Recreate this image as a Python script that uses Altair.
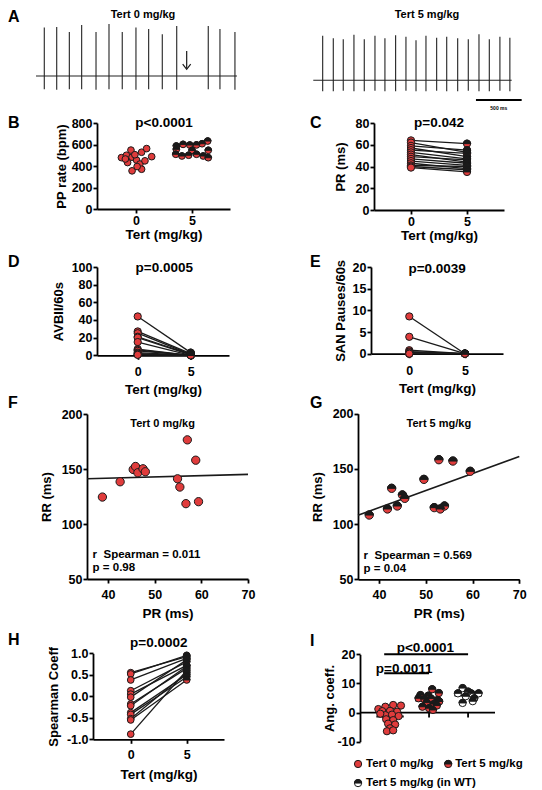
import altair as alt
import pandas as pd

FONT = "Liberation Sans"
RED = "#e03c3c"
DARK = "#1a1a1a"
TOP_HALF = "M -1 0 A 1 1 0 0 1 1 0 Z"
MINUS_FIX = "replace(datum.label, '\u2212', '-')"
W, HH = 526, 782  # whole drawing area (page 8..534 x 8..790)

# ---------------- data ----------------
# A: ECG beats (time in ms, R peak and S trough in mV)
ecg0_t = [397, 533, 671, 806, 963, 1105, 1250, 1400, 1539, 1688, 1846, 2191, 2319, 2483]
ecg0_top = [0.99, 1.00, 0.90, 1.04, 0.90, 1.06, 0.90, 0.99, 0.96, 0.85, 1.02, 1.02, 0.96, 0.90]
ecg0_bot = [-0.27, -0.28, -0.27, -0.27, -0.28, -0.27, -0.27, -0.28, -0.27, -0.27, -0.28, -0.27, -0.27, -0.28]
ecg5_t = [3443, 3559, 3668, 3785, 3898, 4015, 4124, 4241, 4354, 4464, 4573, 4690, 4800, 4920, 5036, 5153, 5266, 5382, 5491]
ecg5_top = [0.82, 0.77, 0.75, 0.84, 0.75, 0.82, 0.77, 0.83, 0.80, 0.73, 0.82, 0.78, 0.80, 0.77, 0.75, 0.85, 0.75, 0.80, 0.78]
ecg5_bot = [-0.31, -0.31, -0.30, -0.31, -0.31, -0.30, -0.31, -0.31, -0.30, -0.31, -0.31, -0.30, -0.31, -0.31, -0.30, -0.31, -0.31, -0.30, -0.31]
ecg_base_start = [306, 3340]
ecg_base_end = [2505, 5511]
ecg_base_level = [0.0, -0.088]

# B: PP rate (bpm), dot-plot spread offsets
pp0_dx = [-1.3, -0.85, -0.45, -0.35, 0.05, 0.5, 0.95, 1.4, -0.75, 0.35, 0.8, -0.1, -0.35, 0.5, 0.1, -0.95]
pp0 = [478, 500, 548, 482, 455, 528, 562, 487, 432, 418, 448, 505, 355, 370, 395, 465]
pp5_dx = [-1.4, -0.8, -0.2, 0.4, 0.9, 1.4, -1.4, 1.45, -1.45, -0.9, -0.3, 0.4, 1.0, 1.45, 0.0]
pp5 = [586, 601, 595, 596, 607, 632, 555, 546, 509, 493, 500, 509, 493, 477, 545]

# C: PR (ms) paired
pr0 = [64, 62, 59, 57, 55, 53, 51, 49, 47, 45, 43, 41, 40, 39]
pr5 = [61, 53, 55, 49, 52, 47, 44, 46, 43, 41, 38, 40, 37, 35]

# D: AVBII / 60 s paired
avb0 = [44, 27, 25, 21, 20, 15, 7, 6, 5, 3, 2, 1, 1, 0.5]
avb5 = [3, 2, 1, 1, 0.5, 0, 0, 0, 0, 0, 0, 0, 0, 0]

# E: SAN pauses / 60 s paired
san0 = [8.6, 3.9, 0.8, 0.5, 0.3, 0, 0, 0]
san5 = [0, 0, 0, 0, 0, 0, 0, 0]

# F, G: PR vs RR
f_pr = [38.8, 42.6, 45.4, 45.9, 46.4, 47.5, 48.0, 54.9, 55.4, 57.0, 58.8, 56.7, 59.4]
f_rr = [124.5, 138.4, 149.6, 152.3, 146.6, 150.2, 147.5, 141.1, 133.6, 176.5, 158.0, 118.5, 120.3]
g_pr = [37.9, 41.8, 42.7, 43.9, 45.0, 45.5, 49.6, 52.8, 51.8, 53.1, 54.0, 55.8, 59.5]
g_rr = [108.2, 113.7, 132.4, 116.4, 126.4, 123.3, 140.5, 158.3, 114.9, 113.7, 116.4, 157.1, 147.8]

# H: Spearman coefficient paired
sp0 = [0.55, 0.52, 0.38, 0.13, 0.05, -0.02, -0.18, -0.22, -0.38, -0.42, -0.52, -0.55, -0.88]
sp5 = [0.92, 0.95, 0.88, 0.80, 0.72, 0.85, 0.65, 0.70, 0.50, 0.45, 0.55, 0.38, 0.60]

# I: angular coefficient, three groups, spread offsets
ang0_dx = [-0.30, -0.12, 0.08, 0.28, -0.20, 0.0, 0.18, -0.12, 0.05, 0.22, -0.10, 0.08, -0.05, 0.13, 0.0, -0.08, 0.08, -0.25]
ang0 = [1.2, 2.0, 2.6, 2.4, 0.5, 0.6, 0.3, -0.9, -0.7, -1.2, -2.3, -2.6, -3.8, -4.1, -5.4, -6.4, -6.1, -0.4]
ang5_dx = [0.08, 0.25, -0.22, -0.02, -0.27, -0.12, 0.05, 0.22, -0.06, 0.12, 0.26, -0.17, 0.0, 0.1, 0.2]
ang5 = [8.0, 6.7, 6.0, 5.8, 4.9, 4.6, 4.8, 4.3, 3.4, 2.9, 3.8, 2.0, 1.5, 0.9, 2.4]
angwt_dx = [-0.14, 0.08, 0.27, -0.26, -0.06, 0.16, -0.14, 0.12, 0.0]
angwt = [8.4, 6.6, 6.6, 6.6, 5.6, 4.9, 3.3, 3.9, 7.2]


# ---------------- helpers ----------------
def letter(text, cx, cy):
    return alt.Chart(pd.DataFrame({"t": [text]})).mark_text(
        font=FONT, fontSize=16, fontWeight="bold", color="black", align="left", baseline="top"
    ).encode(x=alt.value(cx), y=alt.value(cy), text="t:N")


def xax(t, vals, lp, tp, ybottom):
    return alt.Axis(title=t, values=vals, labelPadding=lp, titlePadding=tp,
                    orient="bottom", offset=ybottom - HH)


def yax(t, vals, tp, xleft, lp=1, fmt=None, expr=None):
    kw = dict(title=t, values=vals, titlePadding=tp, labelPadding=lp, orient="left", offset=-xleft)
    if fmt:
        kw["format"] = fmt
    if expr:
        kw["labelExpr"] = expr
    return alt.Axis(**kw)


def sc(dom, rng):
    return alt.Scale(domain=dom, range=rng, nice=False, zero=False)


def pts_full(df, X, Y, size, fill):
    return alt.Chart(df).mark_point(shape="circle", filled=True, fill=fill, stroke=DARK,
                                    strokeWidth=1, size=size, opacity=1).encode(x=X, y=Y)


def pts_top(df, X, Y, size):
    return alt.Chart(df).mark_point(shape=TOP_HALF, filled=True, fill=DARK, stroke=DARK,
                                    strokeWidth=1, size=size, opacity=1).encode(x=X, y=Y)


def note(text, x, y, xs, ys, size=13.5, align="center", baseline="middle", noaxis=False):
    if noaxis:
        ex = alt.X(datum=x, scale=xs, axis=None)
        ey = alt.Y(datum=y, scale=ys, axis=None)
    else:
        ex = alt.X(datum=x, scale=xs)
        ey = alt.Y(datum=y, scale=ys)
    return alt.Chart(pd.DataFrame({"t": [text]})).mark_text(
        font=FONT, fontSize=size, fontWeight="bold", color="black",
        align=align, baseline=baseline).encode(x=ex, y=ey, text="t:N")


def paired(let, lpos, v0, v5, dx0, dx5, xdom, xr, ydom, yr, yvals, ytitle, ptxt, py,
           ytp, xlp, xtp, size, lines=True, fmt=None, expr=None):
    d0 = pd.DataFrame({"id": list(range(len(v0))), "x": [0 + o for o in dx0], "v": v0})
    d5 = pd.DataFrame({"id": list(range(len(v5))), "x": [5 + o for o in dx5], "v": v5})
    xs, ys = sc(xdom, xr), sc(ydom, yr)
    X = alt.X("x:Q", scale=xs, axis=xax("Tert (mg/kg)", [0, 5], xlp, xtp, yr[0]))
    Y = alt.Y("v:Q", scale=ys, axis=yax(ytitle, yvals, ytp, xr[0], fmt=fmt, expr=expr))
    layers = []
    if lines:
        layers.append(alt.Chart(pd.concat([d0, d5])).mark_line(color=DARK, strokeWidth=1.3)
                      .encode(x=X, y=Y, detail="id:N"))
    layers += [pts_full(d0, X, Y, size, RED), pts_full(d5, X, Y, size, RED),
               pts_top(d5, X, Y, size), note(ptxt, 2.5, py, xs, ys), letter(let, *lpos)]
    return alt.layer(*layers)


def scatter(let, lpos, prs, rrs, half, label, lx, rtxt, ptxt, xr, yr):
    d = pd.DataFrame({"pr": prs, "rr": rrs})
    xs, ys = sc([35.5, 70], xr), sc([50, 200], yr)
    X = alt.X("pr:Q", scale=xs, axis=xax("PR (ms)", [40, 50, 60, 70], 5.1, 5.4, yr[0]))
    Y = alt.Y("rr:Q", scale=ys, axis=yax("RR (ms)", [50, 100, 150, 200], 7.15, xr[0]))
    reg = (alt.Chart(d).transform_regression("pr", "rr", extent=[35.5, 70])
           .mark_line(color=DARK, strokeWidth=1.6).encode(x=X, y=Y))
    layers = [reg, pts_full(d, X, Y, 69, RED)]
    if half:
        layers.append(pts_top(d, X, Y, 69))
    layers += [note(label, lx, 190.9, xs, ys, size=11),
               note(rtxt, 36.7, 71.5, xs, ys, size=11.5, align="left"),
               note(ptxt, 36.7, 59.7, xs, ys, size=11.5, align="left"),
               letter(let, *lpos)]
    return alt.layer(*layers)


# ---------------- panel A ----------------
AXS = sc([0, 5755], [0, 526])
AYS = sc([-0.735, 1.367], [103, 0])
spk = pd.DataFrame({"t": ecg0_t + ecg5_t, "top": ecg0_top + ecg5_top, "bot": ecg0_bot + ecg5_bot})
base = pd.DataFrame({"t0": ecg_base_start, "t1": ecg_base_end, "lvl": ecg_base_level})
a_base = alt.Chart(base).mark_rule(color="#222", strokeWidth=1.1).encode(
    x=alt.X("t0:Q", scale=AXS, axis=None), x2="t1:Q", y=alt.Y("lvl:Q", scale=AYS, axis=None))
a_spk = alt.Chart(spk).mark_rule(color="#222", strokeWidth=1.1).encode(
    x=alt.X("t:Q", scale=AXS, axis=None), y=alt.Y("bot:Q", scale=AYS, axis=None), y2="top:Q")
a_arrow = alt.Chart(pd.DataFrame({"t": [1955], "y0": [0.51], "y1": [0.16]})).mark_rule(
    color=DARK, strokeWidth=1.2).encode(
    x=alt.X("t:Q", scale=AXS, axis=None), y=alt.Y("y0:Q", scale=AYS, axis=None), y2="y1:Q")
a_head = alt.Chart(pd.DataFrame({"t": [1955], "y": [0.137]})).mark_point(
    shape="M -1 -1.3 L 0 0 L 1 -1.3", filled=False, stroke=DARK, strokeWidth=1.2, size=64, opacity=1
).encode(x=alt.X("t:Q", scale=AXS, axis=None), y=alt.Y("y:Q", scale=AYS, axis=None))
a_bar = alt.Chart(pd.DataFrame({"t0": [5120], "t1": [5620], "y": [-0.49]})).mark_rule(
    color="black", strokeWidth=2.2).encode(
    x=alt.X("t0:Q", scale=AXS, axis=None), x2="t1:Q", y=alt.Y("y:Q", scale=AYS, axis=None))
A = alt.layer(
    a_base, a_spk, a_arrow, a_head, a_bar,
    note("Tert 0 mg/kg", 1477, 1.245, AXS, AYS, size=11, noaxis=True),
    note("Tert 5 mg/kg", 4584, 1.245, AXS, AYS, size=11, noaxis=True),
    note("500 ms", 5370, -0.653, AXS, AYS, size=5, noaxis=True),
    letter("A", 0, 0),
)

# ---------------- panels B-E ----------------
B = paired("B", (0, 105.8), pp0, pp5, pp0_dx, pp5_dx, [-3.48, 8.39], [89, 222], [0, 800], [200, 114],
           [0, 200, 400, 600, 800], "PP rate (bpm)", "p<0.0001", 804, 2.6, 1.5, 0, 45, lines=False)
C = paired("C", (302, 105.8), pr0, pr5, [0] * len(pr0), [0] * len(pr5), [-3.3, 8.3], [366, 496],
           [0, 80], [201, 114], [0, 20, 40, 60, 80], "PR (ms)", "p=0.042", 80.2, 7.6, 1.5, 0, 53)
D = paired("D", (0, 244.8), avb0, avb5, [0] * len(avb0), [0] * len(avb5), [-3.84, 8.61], [89, 221],
           [0, 100], [346.3, 258], [0, 20, 40, 60, 80, 100], "AVBII/60s", "p=0.0005", 98.4,
           5.4, 5.8, 4.5, 53)
E = paired("E", (302, 244.8), san0, san5, [0] * len(san0), [0] * len(san5), [-3.44, 8.42], [363, 495],
           [0, 20], [344.7, 258], [0, 5, 10, 15, 20], "SAN Pauses/60s", "p=0.0039", 19.65,
           4.9, 6.3, 4.6, 53)

# ---------------- panels F, G ----------------
F = scatter("F", (0, 385.8), f_pr, f_rr, False, "Tert 0 mg/kg", 51.7,
            "r\u00a0\u00a0Spearman = 0.011", "p = 0.98", [79, 240], [570, 405])
G = scatter("G", (302, 385.8), g_pr, g_rr, True, "Tert 5 mg/kg", 52.8,
            "r\u00a0\u00a0Spearman = 0.569", "p = 0.04", [350, 511.3], [570.3, 404.7])

# ---------------- panel H ----------------
H = paired("H", (0, 622.5), sp0, sp5, [0] * len(sp0), [0] * len(sp5), [-3.37, 8.33], [85, 216],
           [-1, 1], [730.3, 644.3], [-1, -0.5, 0, 0.5, 1], "Spearman Coeff", "p=0.0002", 1.23,
           5.8, 5.1, 6.8, 45, fmt=".1f", expr=MINUS_FIX)

# ---------------- panel I ----------------
IXS = sc([0.23, 3.69], [352, 487])
IYS = sc([-10, 20], [732.7, 645.3])
yax_i = yax("Ang. coeff.", [-10, 0, 10, 20], 0.7, 352, expr=MINUS_FIX)


def XI(f):
    return alt.X(f, scale=IXS, axis=None)


def YI(f):
    return alt.Y(f, scale=IYS, axis=yax_i)


g1 = pd.DataFrame({"x": [1 + o for o in ang0_dx], "v": ang0, "g": 1})
g2 = pd.DataFrame({"x": [2 + o for o in ang5_dx], "v": ang5, "g": 2})
g3 = pd.DataFrame({"x": [3 + o for o in angwt_dx], "v": angwt, "g": 3})
allg = pd.concat([g1, g2, g3])

i_zero = alt.Chart(pd.DataFrame({"x0": [0.23], "x1": [3.69], "v": [0]})).mark_rule(
    color="black", strokeWidth=1.8).encode(x=XI("x0:Q"), x2="x1:Q", y=YI("v:Q"))
i_ticks = alt.Chart(pd.DataFrame({"g": [1, 2, 3], "v0": [0, 0, 0], "v1": [-1.7, -1.7, -1.7]})).mark_rule(
    color="black", strokeWidth=1.8).encode(x=XI("g:Q"), y=YI("v0:Q"), y2="v1:Q")
i_means = (alt.Chart(allg).transform_aggregate(m="mean(v)", groupby=["g"])
           .transform_calculate(x1="datum.g - 0.35", x2="datum.g + 0.35")
           .mark_rule(color="black", strokeWidth=2).encode(x=XI("x1:Q"), x2="x2:Q", y=YI("m:Q")))


def ipts(df, fill, half):
    out = [alt.Chart(df).mark_point(shape="circle", filled=True, fill=fill, stroke=DARK, strokeWidth=1,
                                    size=53, opacity=1).encode(x=XI("x:Q"), y=YI("v:Q"))]
    if half:
        out.append(alt.Chart(df).mark_point(shape=TOP_HALF, filled=True, fill=DARK, stroke=DARK,
                                            strokeWidth=1, size=53, opacity=1).encode(x=XI("x:Q"), y=YI("v:Q")))
    return out


sig = pd.DataFrame({"x1": [0.85, 0.85], "x2": [3.0, 2.0], "v": [20, 13.5],
                    "tx": [1.905, 1.36], "ty": [20.8, 13.7], "t": ["p<0.0001", "p=0.0011"]})
i_sig = alt.Chart(sig).mark_rule(color="black", strokeWidth=2).encode(x=XI("x1:Q"), x2="x2:Q", y=YI("v:Q"))
i_sigt = alt.Chart(sig).mark_text(font=FONT, fontSize=13.5, fontWeight="bold", color="black",
                                  align="center", baseline="alphabetic").encode(
    x=XI("tx:Q"), y=YI("ty:Q"), text="t:N")

leg_red = pd.DataFrame({"x": [0.18], "v": [-17.65]})
leg_half = pd.DataFrame({"x": [2.49], "v": [-17.65]})
leg_wt = pd.DataFrame({"x": [0.18], "v": [-24.2]})
leg_txt = pd.DataFrame({"x": [0.385, 2.67, 0.385], "v": [-17.65, -17.65, -24.2],
                        "t": ["Tert 0 mg/kg", "Tert 5 mg/kg", "Tert 5 mg/kg (in WT)"]})
i_legt = alt.Chart(leg_txt).mark_text(font=FONT, fontSize=11.5, fontWeight="bold", color="black",
                                      align="left", baseline="middle").encode(
    x=XI("x:Q"), y=YI("v:Q"), text="t:N")

I = alt.layer(
    i_zero, i_ticks, i_means,
    *ipts(g1, RED, False), *ipts(g2, RED, True), *ipts(g3, "white", True),
    i_sig, i_sigt,
    *ipts(leg_red, RED, False), *ipts(leg_half, RED, True), *ipts(leg_wt, "white", True),
    i_legt, letter("I", 302, 624.1),
)

# ---------------- one drawing area, one set of scales per panel ----------------
chart = (alt.layer(A, B, C, D, E, F, G, H, I)
         .resolve_scale(x="independent", y="independent")
         .resolve_axis(x="independent", y="independent")
         .properties(width=W, height=HH, padding=0)
         .configure_view(strokeWidth=0)
         .configure_axis(domainColor="black", domainWidth=1.8, tickColor="black", tickWidth=1.8,
                         tickSize=4, labelFont=FONT, labelFontSize=12.5, labelFontWeight="bold",
                         labelColor="black", titleFont=FONT, titleFontWeight="bold",
                         titleColor="black", grid=False, labelFlush=False, labelOverlap=False)
         .configure_axisX(titleFontSize=13.5)
         .configure_axisY(titleFontSize=13))

chart.save("out.html", embed_options={"renderer": "svg", "actions": False})
